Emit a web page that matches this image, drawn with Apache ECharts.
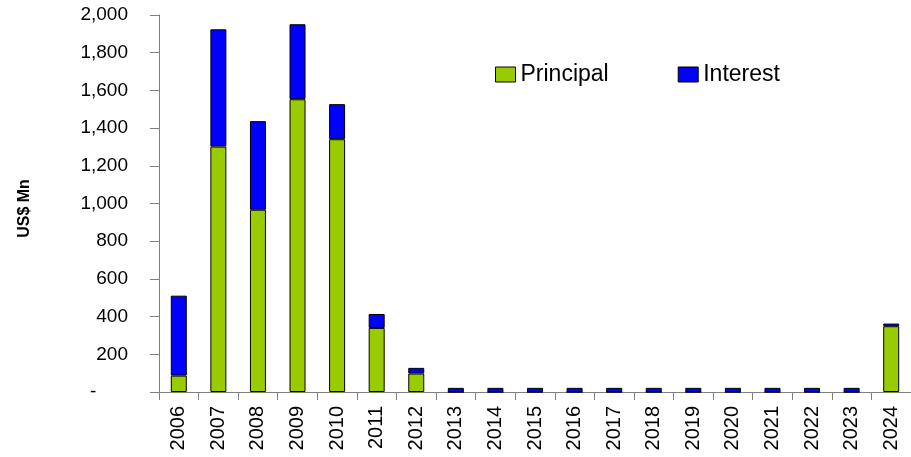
<!DOCTYPE html>
<html>
<head>
<meta charset="utf-8">
<script src="https://cdn.jsdelivr.net/npm/echarts@6/dist/echarts.min.js"></script>
<style>
html,body{margin:0;padding:0;background:#fff;}
#chart{width:911px;height:457px;}
</style>
</head>
<body>
<div id="chart"></div>
<script>
const years = ['2006','2007','2008','2009','2010','2011','2012','2013','2014','2015','2016','2017','2018','2019','2020','2021','2022','2023','2024'];
const principal = [87,1302,967,1553,1341,340,98,0,0,0,0,0,0,0,0,0,0,0,349];
const interest = [424,622,470,398,186,74,30,22,22,22,22,22,22,22,22,22,22,22,14];
const yTicks = [0,200,400,600,800,1000,1200,1400,1600,1800,2000];

const chart = echarts.init(document.getElementById('chart'));
const font = '"Liberation Sans", Arial, sans-serif';
chart.setOption({
  animation: false,
  backgroundColor: '#ffffff',
  textStyle: {fontFamily: font},
  grid: {left: 159, right: -7, top: 15, bottom: 65, containLabel: false},
  legend: {
    left: 490, top: 58,
    icon: 'rect',
    itemWidth: 20, itemHeight: 15, itemGap: 69,
    textStyle: {fontSize: 23, color: '#000', fontFamily: font},
    data: [
      {name: 'Principal', itemStyle: {color: '#99CC00', borderColor: '#000', borderWidth: 1}},
      {name: 'Interest', itemStyle: {color: '#0000FF', borderColor: '#000', borderWidth: 1}}
    ]
  },
  xAxis: {
    type: 'category',
    data: years,
    boundaryGap: true,
    axisLine: {lineStyle: {color: '#808080', width: 1}},
    axisTick: {show: true, length: 8, lineStyle: {color: '#808080'}},
    axisLabel: {rotate: 90, fontSize: 20, color: '#000', margin: 14, interval: 0, fontFamily: font}
  },
  yAxis: {
    type: 'value',
    min: yTicks[0], max: yTicks[yTicks.length-1], interval: 200,
    name: 'US$ Mn',
    nameLocation: 'middle',
    nameGap: 126,
    nameRotate: 90,
    nameTextStyle: {fontSize: 16, fontWeight: 'bold', color: '#000', fontFamily: font, padding: [0,10,0,0]},
    splitLine: {show: false},
    axisLine: {show: true, lineStyle: {color: '#808080', width: 1}},
    axisTick: {show: true, length: 9, lineStyle: {color: '#808080'}},
    axisLabel: {
      fontSize: 19, color: '#000', margin: 31, fontFamily: font,
      formatter: function (v) { return v === 0 ? '-      ' : v.toLocaleString('en-US'); }
    }
  },
  series: [
    {name: 'Principal', type: 'bar', stack: 'total', barWidth: 16, data: principal,
     itemStyle: {color: '#99CC00', borderColor: '#000', borderWidth: 1}},
    {name: 'Interest', type: 'bar', stack: 'total', barWidth: 16, data: interest,
     itemStyle: {color: '#0000FF', borderColor: '#000', borderWidth: 1}}
  ]
});
</script>
</body>
</html>
